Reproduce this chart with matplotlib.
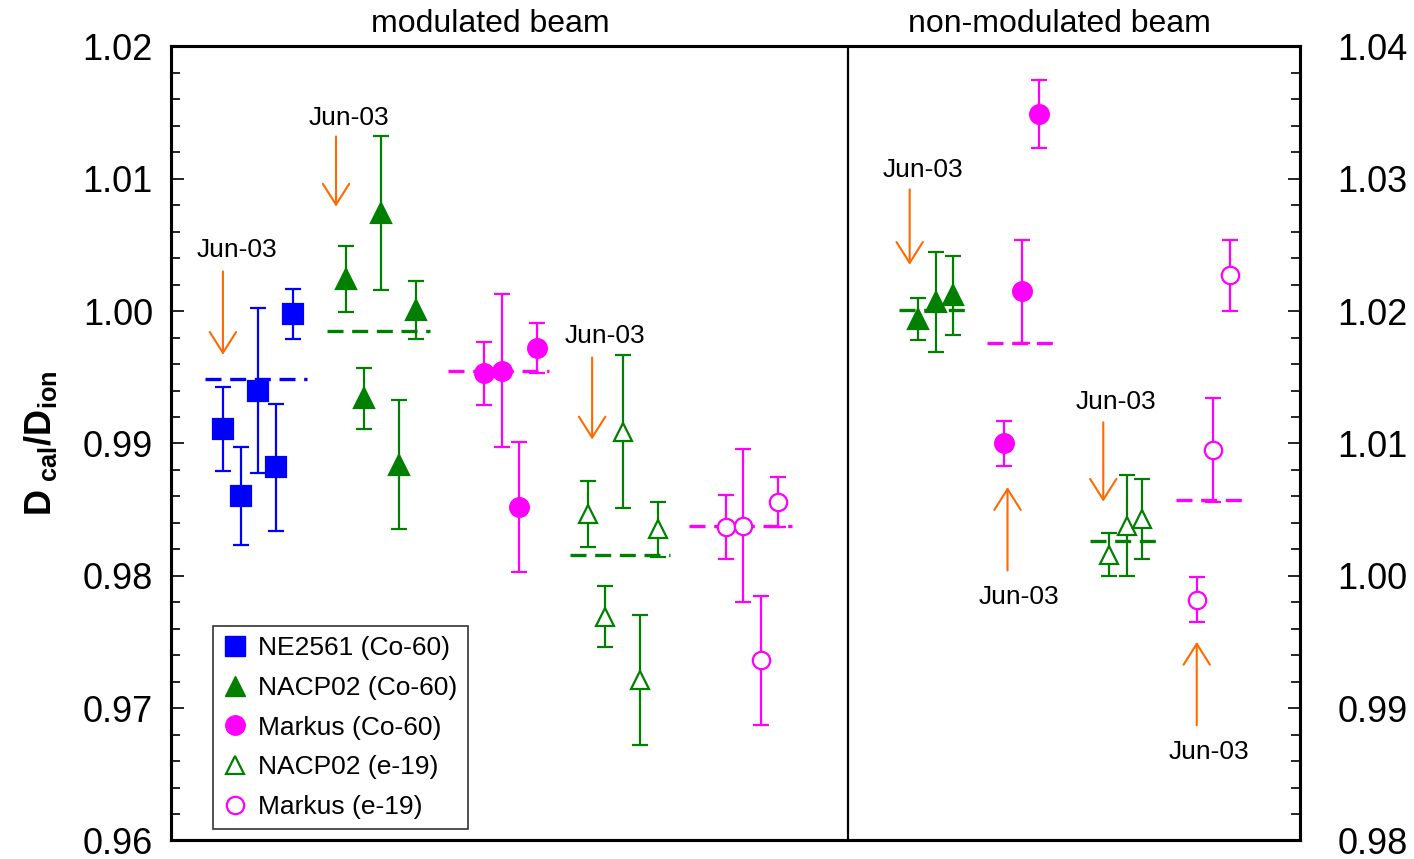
import matplotlib
matplotlib.use("Agg")
import matplotlib.pyplot as plt
from matplotlib.lines import Line2D
from matplotlib.ticker import MultipleLocator, FormatStrFormatter

plt.rcParams['font.family'] = ['Liberation Sans', 'DejaVu Sans']
plt.rcParams['mathtext.fontset'] = 'custom'
plt.rcParams['mathtext.rm'] = 'Liberation Sans'
plt.rcParams['mathtext.bf'] = 'Liberation Sans:bold'

BLUE = '#0000ff'
GREEN = '#007f00'
MAGENTA = '#ff00ff'
ORANGE = '#ff6a00'

# ---- modulated beam (left axis) ----
ne_co_x = [3, 4, 5, 6, 7]
ne_co_y = [0.9911, 0.9860, 0.9940, 0.9882, 0.9998]
ne_co_err = [0.0032, 0.0037, 0.0062, 0.0048, 0.0019]
ne_co_mean = 0.9949

nacp_co_x = [10, 11, 12, 13, 14]
nacp_co_y = [1.0024, 0.9934, 1.0074, 0.9884, 1.0001]
nacp_co_err = [0.0025, 0.0023, 0.0058, 0.0049, 0.0022]
nacp_co_mean = 0.9985

markus_co_x = [17.9, 18.9, 19.9, 20.9]
markus_co_y = [0.9953, 0.9955, 0.9852, 0.9972]
markus_co_err = [0.0024, 0.0058, 0.0049, 0.0019]
markus_co_mean = 0.9955

nacp_e_x = [23.8, 24.8, 25.8, 26.8, 27.8]
nacp_e_y = [0.9847, 0.9769, 0.9909, 0.9721, 0.9835]
nacp_e_err = [0.0025, 0.0023, 0.0058, 0.0049, 0.0021]
nacp_e_mean = 0.9816

markus_e_x = [31.7, 32.7, 33.7, 34.7]
markus_e_y = [0.9837, 0.9838, 0.9736, 0.9856]
markus_e_err = [0.0024, 0.0058, 0.0049, 0.0019]
markus_e_mean = 0.9838

# ---- non-modulated beam (right axis) ----
nm_nacp_co_x = [42.7, 43.7, 44.7]
nm_nacp_co_y = [1.0194, 1.0207, 1.0212]
nm_nacp_co_err = [0.0016, 0.0038, 0.0030]
nm_nacp_co_mean = 1.0201

nm_markus_co_x = [47.6, 48.6, 49.6]
nm_markus_co_y = [1.0100, 1.0215, 1.0349]
nm_markus_co_err = [0.0017, 0.0039, 0.0026]
nm_markus_co_mean = 1.0176

nm_nacp_e_x = [53.6, 54.6, 55.5]
nm_nacp_e_y = [1.0016, 1.0038, 1.0043]
nm_nacp_e_err = [0.0016, 0.0038, 0.0030]
nm_nacp_e_mean = 1.0026

nm_markus_e_x = [58.6, 59.5, 60.5]
nm_markus_e_y = [0.9982, 1.0095, 1.0227]
nm_markus_e_err = [0.0017, 0.0039, 0.0027]
nm_markus_e_mean = 1.0057

# "Jun-03" markers: arrow tail, arrow head, label position (left-axis units)
jun_arrows = [
    ((2.97, 1.0030), (2.97, 0.9967), (3.77, 1.0046)),
    ((9.43, 1.0132), (9.43, 1.0079), (10.17, 1.0146)),
    ((24.06, 0.9965), (24.06, 0.9903), (24.8, 0.9981)),
    ((42.2, 1.0092), (42.2, 1.0035), (42.97, 1.0107)),
    ((47.79, 0.9804), (47.79, 0.9867), (48.45, 0.9784)),
    ((53.26, 0.9916), (53.26, 0.9856), (54.0, 0.9931)),
    ((58.6, 0.9687), (58.6, 0.9750), (59.3, 0.9667)),
]

fig = plt.figure(figsize=(14.14, 8.59), dpi=100)
ax = fig.add_axes([0.1209, 0.0216, 0.7985, 0.9243])
ax.set_xlim(0, 64.5)
ax.set_ylim(0.96, 1.02)
ax2 = ax.twinx()
ax2.set_ylim(0.98, 1.04)

ebkw = dict(ls='none', elinewidth=1.6, capsize=6, capthick=1.6, mew=1.6)


def series(a, x, y, err, mean, span, color, marker, ms, hollow=False):
    a.errorbar(x, y, yerr=err, fmt=marker, color=color, ms=ms,
               mfc='white' if hollow else color, mec=color, zorder=3, **ebkw)
    a.plot(span, [mean, mean], color=color, lw=2.4, dashes=(4.8, 2.6), zorder=2)


series(ax, ne_co_x, ne_co_y, ne_co_err, ne_co_mean, [1.94, 7.8], BLUE, 's', 14.5)
series(ax, nacp_co_x, nacp_co_y, nacp_co_err, nacp_co_mean, [8.9, 14.8], GREEN, '^', 14)
series(ax, markus_co_x, markus_co_y, markus_co_err, markus_co_mean, [15.8, 21.6], MAGENTA, 'o', 13.5)
series(ax, nacp_e_x, nacp_e_y, nacp_e_err, nacp_e_mean, [22.8, 28.5], GREEN, '^', 12.5, hollow=True)
series(ax, markus_e_x, markus_e_y, markus_e_err, markus_e_mean, [29.6, 35.5], MAGENTA, 'o', 12.5, hollow=True)

series(ax2, nm_nacp_co_x, nm_nacp_co_y, nm_nacp_co_err, nm_nacp_co_mean, [41.6, 45.7], GREEN, '^', 14)
series(ax2, nm_markus_co_x, nm_markus_co_y, nm_markus_co_err, nm_markus_co_mean, [46.6, 50.6], MAGENTA, 'o', 13.5)
series(ax2, nm_nacp_e_x, nm_nacp_e_y, nm_nacp_e_err, nm_nacp_e_mean, [52.5, 56.6], GREEN, '^', 12.5, hollow=True)
series(ax2, nm_markus_e_x, nm_markus_e_y, nm_markus_e_err, nm_markus_e_mean, [57.4, 61.6], MAGENTA, 'o', 12.5, hollow=True)

for tail, head, lab in jun_arrows:
    ax.annotate('', xy=head, xytext=tail,
                arrowprops=dict(arrowstyle='->,head_length=1.5,head_width=0.95',
                                color=ORANGE, lw=1.5, shrinkA=0, shrinkB=0,
                                mutation_scale=10))
    ax.text(lab[0], lab[1], 'Jun-03', fontsize=19, ha='center', va='center')

# divider between the two beam set-ups
ax.axvline(38.7, color='black', lw=1.6)

ax.text(0.2825, 1.01, 'modulated beam', transform=ax.transAxes,
        fontsize=23, ha='center', va='bottom')
ax.text(0.7865, 1.01, 'non-modulated beam', transform=ax.transAxes,
        fontsize=23, ha='center', va='bottom')

for a in (ax, ax2):
    for s in a.spines.values():
        s.set_linewidth(2.2)
    a.yaxis.set_major_locator(MultipleLocator(0.01))
    a.yaxis.set_minor_locator(MultipleLocator(0.002))
    a.yaxis.set_major_formatter(FormatStrFormatter('%.2f'))
    a.tick_params(axis='y', which='major', direction='in', length=9,
                  width=1.2, labelsize=26)
    a.tick_params(axis='y', which='minor', direction='in', length=6.5, width=1.2)
ax.tick_params(axis='y', which='major', pad=13)
ax2.tick_params(axis='y', which='major', pad=27)
ax.set_xticks([])
ax2.set_xticks([])

ax.set_ylabel(r'$\mathbf{D}_{\ \mathbf{cal}}\mathbf{/D}_{\mathbf{ion}}$',
              fontsize=26)
ax.yaxis.set_label_coords(-0.099, 0.5)

handles = [
    Line2D([], [], ls='none', marker='s', ms=14, color=BLUE),
    Line2D([], [], ls='none', marker='^', ms=14, color=GREEN),
    Line2D([], [], ls='none', marker='o', ms=14, color=MAGENTA),
    Line2D([], [], ls='none', marker='^', ms=12.5, color=GREEN, mfc='white', mew=1.6),
    Line2D([], [], ls='none', marker='o', ms=12.5, color=MAGENTA, mfc='white', mew=1.6),
]
labels = ['NE2561 (Co-60)', 'NACP02 (Co-60)', 'Markus (Co-60)',
          'NACP02 (e-19)', 'Markus (e-19)']
leg = ax.legend(handles, labels, loc='lower left', bbox_to_anchor=(0.037, 0.014),
                borderaxespad=0, fontsize=19, frameon=True, fancybox=False,
                edgecolor='black', handlelength=0.9, handletextpad=0.45,
                labelspacing=0.6, borderpad=0.38)
leg.get_frame().set_linewidth(1.2)
leg.set_zorder(5)

fig.savefig('out.png', dpi=100)
